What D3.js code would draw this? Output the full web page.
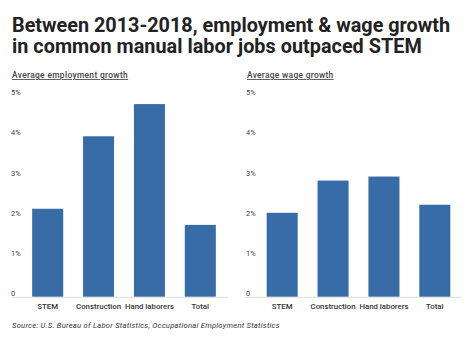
<!DOCTYPE html>
<html>
<head>
<meta charset="utf-8">
<script src="https://cdn.jsdelivr.net/npm/d3@7/dist/d3.min.js"></script>
<style>
  html, body { margin: 0; padding: 0; background: #fff; }
  svg { display: block; font-family: Roboto, "Noto Sans", sans-serif; }
</style>
</head>
<body>
<svg id="chart" width="474" height="338"></svg>
<script>
// Data
const categories = ["STEM", "Construction", "Hand laborers", "Total"];
const employmentGrowth = [2.1, 3.9, 4.7, 1.7];
const wageGrowth = [2.0, 2.8, 2.9, 2.2];
const yTicks = [0, 1, 2, 3, 4, 5];
const titleLines = [
  "Between 2013-2018, employment & wage growth",
  "in common manual labor jobs outpaced STEM"
];
const panelTitles = ["Average employment growth", "Average wage growth"];
const sourceText = "Source: U.S. Bureau of Labor Statistics, Occupational Employment Statistics";

const svg = d3.select("#chart");
const barColor = "#386ca7";
const textColor = "#333";

// Spread a text's letters so it spans the given width
function fitWidth(sel, width) {
  sel.each(function () {
    const natural = this.getComputedTextLength();
    const n = this.textContent.length;
    const ls = Math.max(-0.5, (width - natural) / n);
    d3.select(this).attr("letter-spacing", ls.toFixed(2));
  });
}

// Title
const titleWidths = [438, 410];
svg.append("g").selectAll("text")
  .data(titleLines)
  .join("text")
  .attr("x", 12)
  .attr("y", (d, i) => 31.5 + i * 21)
  .attr("font-size", 19.8)
  .attr("font-weight", 700)
  .attr("fill", "#222")
  .text(d => d)
  .each(function (d, i) { fitWidth(d3.select(this), titleWidths[i]); });

// Shared vertical scale: label centres sit at the tick value
const y = d3.scaleLinear().domain([0, 5]).range([293.3, 92]);
const baselineY = 296.8;

function drawPanel(values, title, titleWidth, left, bandRange, lineRange) {
  const g = svg.append("g");

  // Panel heading, underlined
  g.append("text")
    .attr("x", left)
    .attr("y", 78)
    .attr("font-size", 8.4)
    .attr("font-weight", 500)
    .attr("fill", "#444")
    .attr("text-decoration", "underline")
    .text(title)
    .call(fitWidth, titleWidth);

  const x = d3.scaleBand().domain(categories).range(bandRange).paddingInner(0.39).paddingOuter(0.2);

  // Bars
  g.selectAll("rect")
    .data(values)
    .join("rect")
    .attr("x", (d, i) => x(categories[i]))
    .attr("width", x.bandwidth())
    .attr("y", d => y(d))
    .attr("height", d => baselineY - y(d))
    .attr("fill", barColor);

  // Baseline
  g.append("line")
    .attr("x1", lineRange[0]).attr("x2", lineRange[1])
    .attr("y1", baselineY + 0.5).attr("y2", baselineY + 0.5)
    .attr("stroke", "#ddd").attr("stroke-width", 1);

  // Y axis labels
  const yAxis = d3.axisRight(y).tickValues(yTicks).tickSize(0)
    .tickFormat(d => d === 0 ? "0" : d + "%");
  const ya = g.append("g").attr("transform", `translate(${left - 1},0)`).call(yAxis);
  ya.select(".domain").remove();
  ya.selectAll("text")
    .attr("x", 0)
    .attr("dy", "0.35em")
    .attr("font-size", 7.4)
    .attr("font-family", "Roboto, sans-serif")
    .attr("fill", "#444");

  // X axis labels
  const xAxis = d3.axisBottom(x).tickSize(0);
  const xa = g.append("g").attr("transform", `translate(0,${baselineY})`).call(xAxis);
  xa.select(".domain").remove();
  xa.selectAll("text")
    .attr("y", 7)
    .attr("font-size", 7.8)
    .attr("font-weight", 500)
    .attr("font-family", "Roboto, sans-serif")
    .attr("fill", textColor);
}

drawPanel(employmentGrowth, panelTitles[0], 116, 12, [22, 226], [12, 228]);
drawPanel(wageGrowth, panelTitles[1], 86.5, 247, [256.5, 460.5], [245, 462]);

// Source note
svg.append("text")
  .attr("x", 12)
  .attr("y", 327.8)
  .attr("font-size", 7.6)
  .attr("font-style", "italic")
  .attr("fill", textColor)
  .text(sourceText)
  .call(fitWidth, 268);
</script>
</body>
</html>
